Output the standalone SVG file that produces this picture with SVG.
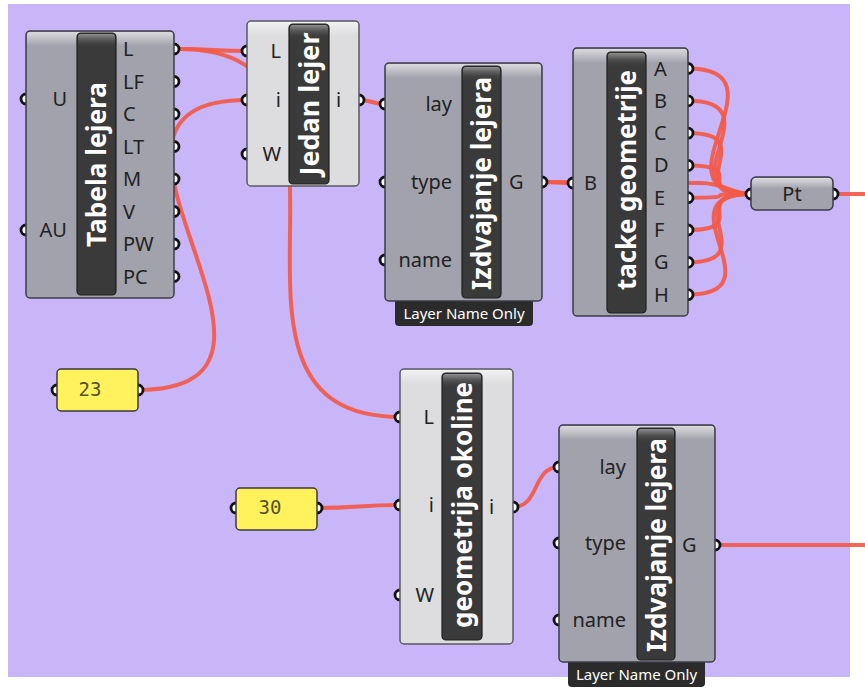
<svg xmlns="http://www.w3.org/2000/svg" width="865" height="688" viewBox="0 0 865 688">
<defs>
  <linearGradient id="hl" x1="0" y1="0" x2="0" y2="1">
    <stop offset="0" stop-color="#ffffff" stop-opacity="0.6"/>
    <stop offset="1" stop-color="#ffffff" stop-opacity="0"/>
  </linearGradient>
  <linearGradient id="barhl" x1="0" y1="0" x2="0" y2="1">
    <stop offset="0" stop-color="#9a9a9a" stop-opacity="0.9"/>
    <stop offset="1" stop-color="#3a3a3a" stop-opacity="0"/>
  </linearGradient>
  <style>
    .wire{fill:none;stroke:#F25A48;stroke-width:4;stroke-linecap:round;opacity:0.92}
    .grip{fill:#fff;stroke:#111;stroke-width:2.8}
    .bd{fill:#A2A2AC;stroke:#3C3C48;stroke-width:1.5}
    .bl{fill:#DDDDDF;stroke:#5A5A62;stroke-width:1.5}
    .bar{fill:#3A3A3A;stroke:#1E1E1E;stroke-width:1.2}
    .hl{fill:url(#hl)}
    .bhl{fill:url(#barhl)}
    .title{font-family:"Noto Sans","Open Sans",sans-serif;font-weight:bold;font-size:26px;fill:#fff;text-anchor:middle}
    .lbl{font-family:"Noto Sans","Open Sans",sans-serif;font-size:20px;fill:#222}
    .r{text-anchor:end}
    .c{text-anchor:middle}
    .foot{fill:#2B2B2B}
    .ft{font-family:"Noto Sans","Open Sans",sans-serif;font-size:15px;fill:#fff;text-anchor:middle}
    .sl{fill:#FFF25C;stroke:#3A3A3A;stroke-width:1.5}
    .num{font-family:"DejaVu Sans Mono","Liberation Mono",monospace;font-size:19px;fill:#55552A;text-anchor:middle}
  </style>
</defs>
<rect x="0" y="0" width="865" height="688" fill="#ffffff"/>
<rect x="8" y="4" width="842" height="673" fill="#C8B6F9"/>

<g id="connectors">
  <path class="wire" d="M180,49 C215,49 212,51 247,51"/>
  <path class="wire" d="M180,49 C405,49 175,417 400,417"/>
  <path class="wire" d="M138,390 C346,390 39,100 247,100"/>
  <path class="wire" d="M359,100 C372,100 372,104 385,104"/>
  <path class="wire" d="M542,182 C557,182 558,183 573,183"/>
  <path class="wire" d="M542,182 L700,183 C725,183 732,194 751,194"/>
  <path class="wire" d="M688,68.5 C792,68.5 647,194 751,194"/>
  <path class="wire" d="M688,100.8 C778,100.8 661,194 751,194"/>
  <path class="wire" d="M688,133.1 C764,133.1 675,194 751,194"/>
  <path class="wire" d="M688,165.4 C753,165.4 686,194 751,194"/>
  <path class="wire" d="M688,197.7 C749,197.7 690,194 751,194"/>
  <path class="wire" d="M688,230 C754,230 685,194 751,194"/>
  <path class="wire" d="M688,262.3 C766,262.3 673,194 751,194"/>
  <path class="wire" d="M688,294.6 C782,294.6 657,194 751,194"/>
  <path class="wire" d="M833,194 L865,194"/>
  <path class="wire" d="M317,508 C358,508 359,505 400,505"/>
  <path class="wire" d="M513,507 C540,507 532,467 559,467"/>
  <path class="wire" d="M715,545 L865,545"/>
</g>

<g id="tabela-lejera">
  <circle class="grip" cx="26" cy="99" r="5"/>
  <circle class="grip" cx="26" cy="230" r="5"/>
  <circle class="grip" cx="174" cy="49" r="5"/>
  <circle class="grip" cx="174" cy="81.5" r="5"/>
  <circle class="grip" cx="174" cy="114" r="5"/>
  <circle class="grip" cx="174" cy="146.5" r="5"/>
  <circle class="grip" cx="174" cy="179" r="5"/>
  <circle class="grip" cx="174" cy="211.5" r="5"/>
  <circle class="grip" cx="174" cy="244" r="5"/>
  <circle class="grip" cx="174" cy="276.5" r="5"/>
  <rect class="bd" x="26" y="31" width="148" height="267" rx="4"/>
  <rect class="hl" x="27" y="32" width="146" height="14" rx="3"/>
  <rect class="bar" x="77" y="33" width="39" height="262" rx="4"/>
  <rect class="bhl" x="78" y="34" width="37" height="14" rx="3"/>
  <text class="title" transform="translate(106,164.5) rotate(-90)" textLength="165" lengthAdjust="spacingAndGlyphs">Tabela lejera</text>
  <text class="lbl r" x="67" y="106">U</text>
  <text class="lbl r" x="67" y="237">AU</text>
  <text class="lbl" x="123" y="56">L</text>
  <text class="lbl" x="123" y="88.5">LF</text>
  <text class="lbl" x="123" y="121">C</text>
  <text class="lbl" x="123" y="153.5">LT</text>
  <text class="lbl" x="123" y="186">M</text>
  <text class="lbl" x="123" y="218.5">V</text>
  <text class="lbl" x="123" y="251">PW</text>
  <text class="lbl" x="123" y="283.5">PC</text>
</g>

<g id="jedan-lejer">
  <circle class="grip" cx="247" cy="51" r="5"/>
  <circle class="grip" cx="247" cy="100" r="5"/>
  <circle class="grip" cx="247" cy="154" r="5"/>
  <circle class="grip" cx="359" cy="100" r="5"/>
  <rect class="bl" x="247" y="21" width="112" height="165" rx="4"/>
  <rect class="hl" x="248" y="22" width="110" height="14" rx="3"/>
  <rect class="bar" x="289" y="24" width="40" height="160" rx="4"/>
  <rect class="bhl" x="290" y="25" width="38" height="14" rx="3"/>
  <text class="title" transform="translate(318.5,104) rotate(-90)" textLength="143" lengthAdjust="spacingAndGlyphs">Jedan lejer</text>
  <text class="lbl r" x="281" y="58">L</text>
  <text class="lbl r" x="281" y="107">i</text>
  <text class="lbl r" x="281" y="161">W</text>
  <text class="lbl" x="336" y="107">i</text>
</g>

<g id="izdvajanje-lejera-1">
  <circle class="grip" cx="385" cy="104" r="5"/>
  <circle class="grip" cx="385" cy="182" r="5"/>
  <circle class="grip" cx="385" cy="260" r="5"/>
  <circle class="grip" cx="542" cy="182" r="5"/>
  <path class="foot" d="M395,299 H533 V322 a4,4 0 0 1 -4,4 H399 a4,4 0 0 1 -4,-4 Z"/>
  <text class="ft" x="464" y="319">Layer Name Only</text>
  <rect class="bd" x="385" y="63" width="157" height="238" rx="4"/>
  <rect class="hl" x="386" y="64" width="155" height="14" rx="3"/>
  <rect class="bar" x="462" y="66" width="39" height="232" rx="4"/>
  <rect class="bhl" x="463" y="67" width="37" height="14" rx="3"/>
  <text class="title" transform="translate(491,183.5) rotate(-90)" textLength="213" lengthAdjust="spacingAndGlyphs">Izdvajanje lejera</text>
  <text class="lbl r" x="452" y="111">lay</text>
  <text class="lbl r" x="452" y="189">type</text>
  <text class="lbl r" x="452" y="267">name</text>
  <text class="lbl" x="509" y="189">G</text>
</g>

<g id="tacke-geometrije">
  <circle class="grip" cx="573" cy="183" r="5"/>
  <circle class="grip" cx="688" cy="68.5" r="5"/>
  <circle class="grip" cx="688" cy="100.8" r="5"/>
  <circle class="grip" cx="688" cy="133.1" r="5"/>
  <circle class="grip" cx="688" cy="165.4" r="5"/>
  <circle class="grip" cx="688" cy="197.7" r="5"/>
  <circle class="grip" cx="688" cy="230" r="5"/>
  <circle class="grip" cx="688" cy="262.3" r="5"/>
  <circle class="grip" cx="688" cy="294.6" r="5"/>
  <rect class="bd" x="573" y="48" width="115" height="268" rx="4"/>
  <rect class="hl" x="574" y="49" width="113" height="14" rx="3"/>
  <rect class="bar" x="607" y="52" width="39" height="261" rx="4"/>
  <rect class="bhl" x="608" y="53" width="37" height="14" rx="3"/>
  <text class="title" transform="translate(636,180) rotate(-90)" textLength="220" lengthAdjust="spacingAndGlyphs">tacke geometrije</text>
  <text class="lbl" x="584" y="190">B</text>
  <text class="lbl" x="654" y="75.5">A</text>
  <text class="lbl" x="654" y="107.8">B</text>
  <text class="lbl" x="654" y="140.1">C</text>
  <text class="lbl" x="654" y="172.4">D</text>
  <text class="lbl" x="654" y="204.7">E</text>
  <text class="lbl" x="654" y="237">F</text>
  <text class="lbl" x="654" y="269.3">G</text>
  <text class="lbl" x="654" y="301.6">H</text>
</g>

<g id="pt">
  <circle class="grip" cx="751" cy="194" r="5"/>
  <circle class="grip" cx="833" cy="194" r="5"/>
  <rect class="bd" x="751" y="177" width="82" height="33" rx="5"/>
  <rect class="hl" x="752" y="178" width="80" height="11" rx="4"/>
  <text class="lbl c" x="792" y="201">Pt</text>
</g>

<g id="slider-23">
  <circle class="grip" cx="57" cy="390" r="5"/>
  <circle class="grip" cx="138" cy="390" r="5"/>
  <rect class="sl" x="57" y="369" width="81" height="42" rx="4"/>
  <text class="num" x="90" y="396">23</text>
</g>

<g id="slider-30">
  <circle class="grip" cx="236" cy="508" r="5"/>
  <circle class="grip" cx="317" cy="508" r="5"/>
  <rect class="sl" x="236" y="488" width="81" height="42" rx="4"/>
  <text class="num" x="270" y="514">30</text>
</g>

<g id="geometrija-okoline">
  <circle class="grip" cx="400" cy="417" r="5"/>
  <circle class="grip" cx="400" cy="505" r="5"/>
  <circle class="grip" cx="400" cy="595" r="5"/>
  <circle class="grip" cx="513" cy="507" r="5"/>
  <rect class="bl" x="400" y="369" width="113" height="275" rx="4"/>
  <rect class="hl" x="401" y="370" width="111" height="14" rx="3"/>
  <rect class="bar" x="442" y="373" width="40" height="267" rx="4"/>
  <rect class="bhl" x="443" y="374" width="38" height="14" rx="3"/>
  <text class="title" transform="translate(471.5,505) rotate(-90)" textLength="246" lengthAdjust="spacingAndGlyphs">geometrija okoline</text>
  <text class="lbl r" x="434" y="424">L</text>
  <text class="lbl r" x="434" y="512">i</text>
  <text class="lbl r" x="434" y="602">W</text>
  <text class="lbl" x="489" y="514">i</text>
</g>

<g id="izdvajanje-lejera-2">
  <circle class="grip" cx="559" cy="467" r="5"/>
  <circle class="grip" cx="559" cy="543" r="5"/>
  <circle class="grip" cx="559" cy="620" r="5"/>
  <circle class="grip" cx="715" cy="545" r="5"/>
  <path class="foot" d="M568,660 H705 V683 a4,4 0 0 1 -4,4 H572 a4,4 0 0 1 -4,-4 Z"/>
  <text class="ft" x="636.5" y="680">Layer Name Only</text>
  <rect class="bd" x="559" y="425" width="156" height="237" rx="4"/>
  <rect class="hl" x="560" y="426" width="154" height="14" rx="3"/>
  <rect class="bar" x="637" y="428" width="38" height="232" rx="4"/>
  <rect class="bhl" x="638" y="429" width="36" height="14" rx="3"/>
  <text class="title" transform="translate(665.5,545) rotate(-90)" textLength="214" lengthAdjust="spacingAndGlyphs">Izdvajanje lejera</text>
  <text class="lbl r" x="626" y="474">lay</text>
  <text class="lbl r" x="626" y="550">type</text>
  <text class="lbl r" x="626" y="627">name</text>
  <text class="lbl" x="682" y="552">G</text>
</g>
</svg>
